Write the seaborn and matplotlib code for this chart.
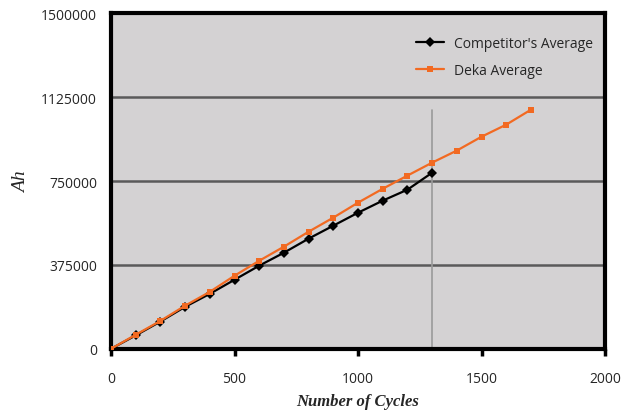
import pandas as pd
import seaborn as sns
import matplotlib.pyplot as plt

# cycle counts and Ah values
comp_cycles = [0, 100, 200, 300, 400, 500, 600, 700, 800, 900, 1000, 1100, 1200, 1300]
comp_ah = [0, 60000, 122000, 188000, 246000, 309000, 372000, 430000, 493000,
           551000, 609000, 663000, 712000, 788000]
deka_cycles = [0, 100, 200, 300, 400, 500, 600, 700, 800, 900, 1000, 1100, 1200,
               1300, 1400, 1500, 1600, 1700]
deka_ah = [0, 63000, 125000, 193000, 255000, 327000, 394000, 457000, 524000, 587000,
           654000, 716000, 775000, 833000, 887000, 949000, 1003000, 1070000]
marker_cycle = 1300
marker_top = 1070000
y_ticks = [0, 375000, 750000, 1125000, 1500000]
x_ticks = [0, 500, 1000, 1500, 2000]

comp = pd.DataFrame({'cycles': comp_cycles, 'ah': comp_ah})
deka = pd.DataFrame({'cycles': deka_cycles, 'ah': deka_ah})

sns.set_style('white')
plt.rcParams['font.family'] = ['Open Sans', 'DejaVu Sans']

fig = plt.figure(figsize=(6.36, 4.14), dpi=100)
ax = fig.add_axes([0.1745, 0.155, 0.777, 0.81])
ax.set_facecolor('#d4d2d3')

for y in y_ticks[1:-1]:
    ax.axhline(y, color='#5a5a5a', lw=1.8, zorder=1)
ax.plot([marker_cycle, marker_cycle], [0, marker_top], color='#9a9a9a', lw=1.2, zorder=1)

sns.lineplot(data=comp, x='cycles', y='ah', ax=ax, color='black', marker='D',
             markersize=5, markeredgewidth=0, lw=1.6, label="Competitor's Average", zorder=3)
sns.lineplot(data=deka, x='cycles', y='ah', ax=ax, color='#f26a22', marker='s',
             markersize=5, markeredgewidth=0, lw=1.6, label='Deka Average', zorder=4)

ax.set_xlim(0, 2000)
ax.set_ylim(0, 1500000)
ax.set_xticks(x_ticks)
ax.set_yticks(y_ticks)
ax.set_xticklabels([str(v) for v in x_ticks])
ax.set_yticklabels([str(v) for v in y_ticks])
ax.tick_params(axis='x', direction='out', length=5, width=2.5, color='black',
               labelsize=10, pad=11, bottom=True)
ax.tick_params(axis='y', length=0, labelsize=10, pad=10)
for s in ax.spines.values():
    s.set_color('black')
    s.set_linewidth(3)

ax.set_xlabel('Number of Cycles', family='Liberation Serif', style='italic',
              weight='bold', fontsize=12, labelpad=5)
ax.set_ylabel('Ah', family='Liberation Serif', style='italic', fontsize=14, labelpad=8)

leg = ax.legend(loc='upper right', bbox_to_anchor=(1.003, 0.975), frameon=False,
                fontsize=10, handlelength=2.0, handletextpad=0.7,
                borderaxespad=0.6, labelspacing=0.85)

fig.savefig('out.png', dpi=100)
